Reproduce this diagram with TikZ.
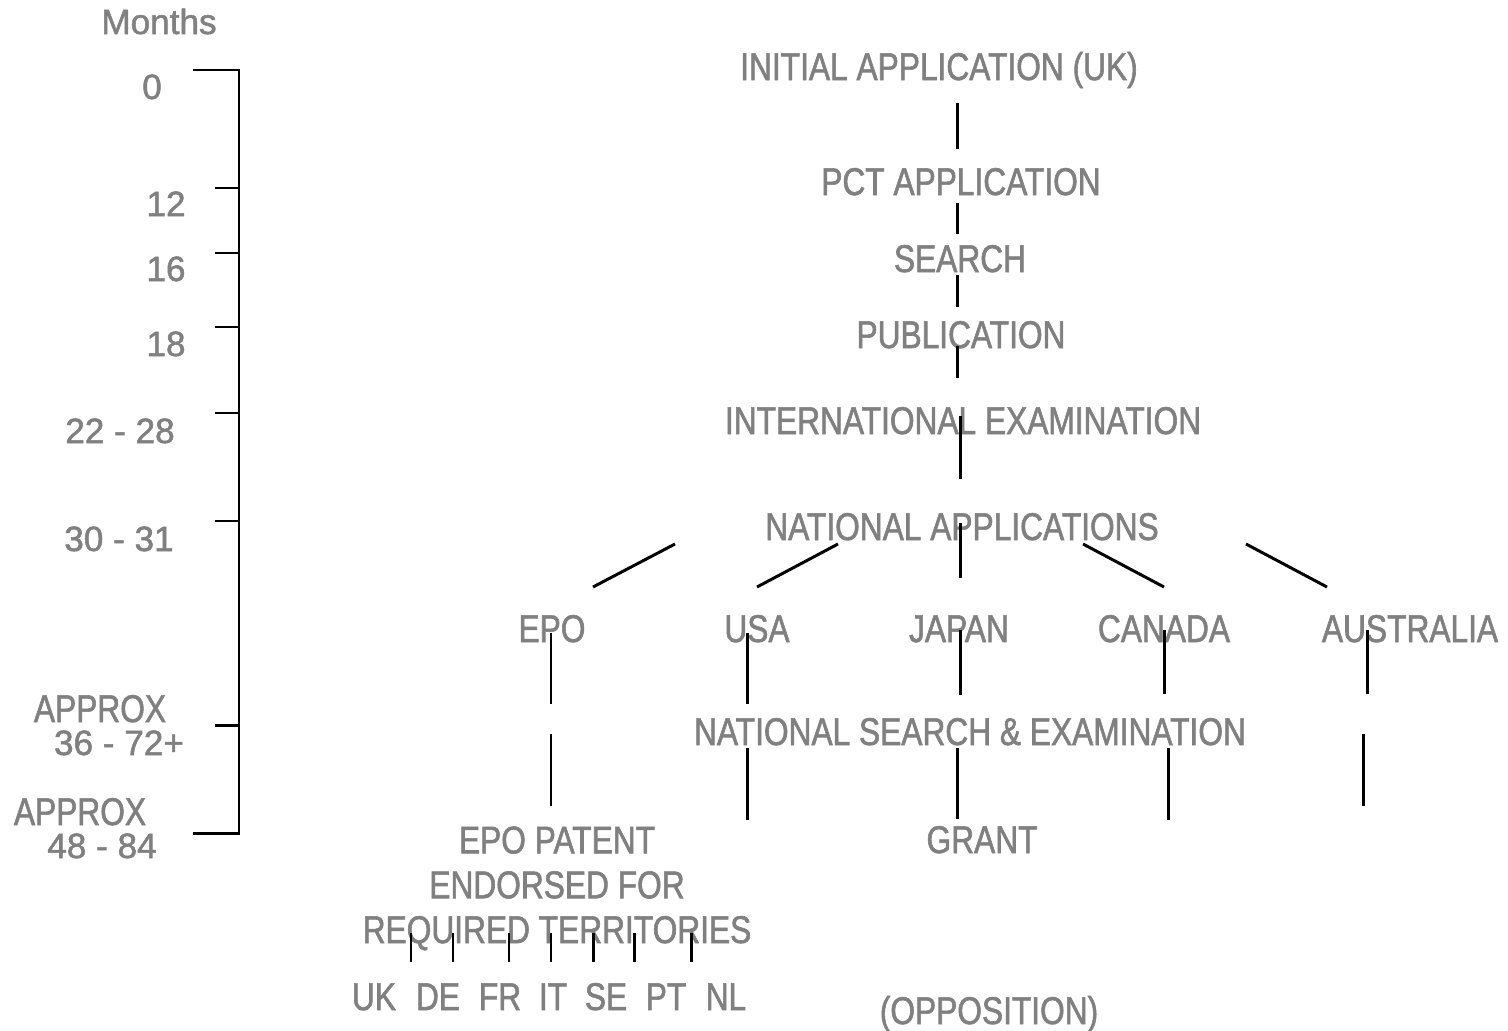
\documentclass[tikz,border=0pt]{standalone}
\usepackage{fontspec}
\setmainfont{Liberation Sans}[FakeBold=1.5]
\newfontfamily\narrowsf{Liberation Sans}[FakeStretch=0.82, FakeBold=1.5]
\definecolor{labelgrey}{HTML}{808080}

\tikzset{
  stage/.style={anchor=base, inner sep=0pt, text=labelgrey,
    font=\narrowsf\fontsize{22}{25.5}\selectfont},
  month/.style={anchor=base, inner sep=0pt, text=labelgrey,
    font=\fontsize{20}{24}\selectfont},
  link/.style={line width=1.7pt},
}

\begin{document}
\begin{tikzpicture}[x=0.02cm, y=-0.02cm]
    \useasboundingbox (0, 0) rectangle (1508, 1031);

    % time scale on the left
    \node[month] (months) at (159, 34) {Months};
    \node[month] (m0) at (152, 99) {0};
    \node[month] (m12) at (166, 216) {12};
    \node[month] (m16) at (166, 281) {16};
    \node[month] (m18) at (166, 356) {18};
    \node[month] (m22) at (120, 443) {22 - 28};
    \node[month] (m30) at (119, 551) {30 - 31};
    \node[stage] (approxA) at (100, 722) {APPROX};
    \node[month] (m36) at (119, 755) {36 - 72+};
    \node[stage] (approxB) at (80, 825) {APPROX};
    \node[month] (m48) at (102, 858) {48 - 84};

    \path (193, 70) coordinate (T0L);
    \path (239, 70) coordinate (T0);
    \path (239, 833) coordinate (T1);
    \path (193, 833) coordinate (T1L);
    \draw[link] (T0L) -- (T0) -- (T1) -- (T1L);
    \foreach \y [count=\i] in {188, 253, 327, 413, 521, 725} {
        \path (215, \y) coordinate (tick\i) (239, \y) coordinate (axis\i);
        \draw[link] (tick\i) -- (axis\i);
    }

    % stages
    \node[stage] (initial) at (939, 80) {INITIAL APPLICATION (UK)};
    \node[stage] (pct) at (961, 195) {PCT APPLICATION};
    \node[stage] (search) at (960, 272) {SEARCH};
    \node[stage] (publication) at (961, 348) {PUBLICATION};
    \node[stage] (intexam) at (963, 434) {INTERNATIONAL EXAMINATION};
    \node[stage] (national) at (962, 540) {NATIONAL APPLICATIONS};

    \node[stage] (epo) at (552, 642) {EPO};
    \node[stage] (usa) at (757, 642) {USA};
    \node[stage] (japan) at (959, 642) {JAPAN};
    \node[stage] (canada) at (1164, 642) {CANADA};
    \node[stage] (australia) at (1410, 642) {AUSTRALIA};

    \node[stage] (natexam) at (970, 745) {NATIONAL SEARCH \& EXAMINATION};
    \node[stage, align=center] (epopatent) at (557, 943)
        {EPO PATENT\\ENDORSED FOR\\REQUIRED TERRITORIES};
    \node[stage] (grant) at (982, 853) {GRANT};
    \node[stage] (opposition) at (989, 1024) {(OPPOSITION)};

    \foreach \name/\x in {UK/374, DE/438, FR/500, IT/553, SE/606, PT/666, NL/726}
        \node[stage] (code\name) at (\x, 1010) {\name};

    % vertical links
    \foreach \x/\ya/\yb [count=\i] in {957/103/149, 957/203/234, 957/275/307,
        957/346/378, 960/416/479, 960/523/578,
        551/633/704, 747/633/704, 960/630/695, 1164/630/694, 1367/630/694,
        551/734/806, 747/748/820, 957/748/819, 1168/748/820, 1363/734/806} {
        \path (\x, \ya) coordinate (top\i) (\x, \yb) coordinate (bot\i);
        \draw[link] (top\i) -- (bot\i);
    }

    % branches to the countries
    \foreach \xa/\xb [count=\i] in {675/593, 838/757, 1083/1164, 1246/1327} {
        \path (\xa, 544) coordinate (fork\i) (\xb, 587) coordinate (leaf\i);
        \draw[link] (fork\i) -- (leaf\i);
    }

    % territories
    \foreach \x [count=\i] in {411, 453, 509, 551, 593, 634, 691} {
        \path (\x, 933) coordinate (terr\i) (\x, 962) coordinate (land\i);
        \draw[link] (terr\i) -- (land\i);
    }
\end{tikzpicture}
\end{document}
